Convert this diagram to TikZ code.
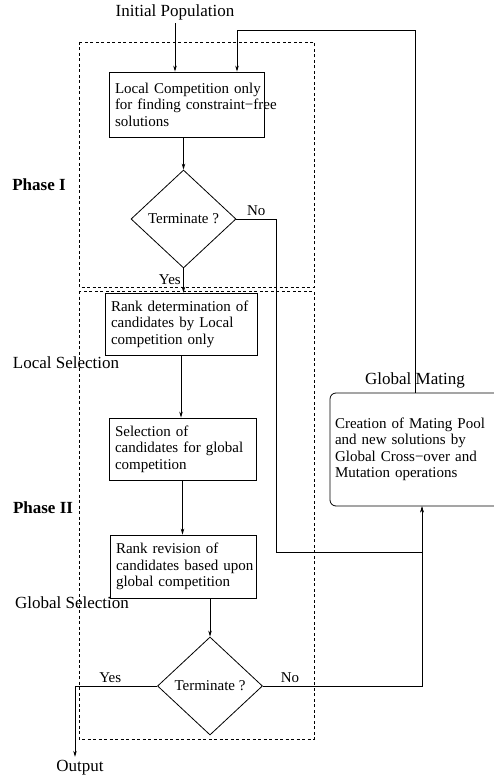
\documentclass[tikz,border=0pt]{standalone}
\usepackage{fontspec}
\setmainfont{Liberation Serif}
\usetikzlibrary{shapes.geometric,arrows.meta}

\begin{document}
\begin{tikzpicture}[x=1pt,y=-1pt,line width=0.8pt,
	>={Stealth[length=6pt,width=3.5pt]},
	procbox/.style={draw,rectangle,align=left,inner xsep=6pt,inner ysep=0pt,
		font=\fontsize{15}{16.5}\selectfont},
	decide/.style={draw,diamond,inner sep=0pt,minimum width=105pt,minimum height=98pt,
		font=\fontsize{15}{17}\selectfont},
	phasebox/.style={draw,dash pattern=on 3pt off 2.5pt,line width=0.7pt},
	biglbl/.style={font=\fontsize{17}{20}\selectfont},
	phaselbl/.style={font=\fontsize{17}{20}\selectfont\bfseries},
	smalllbl/.style={font=\fontsize{15}{17}\selectfont}]

	\useasboundingbox (0,0) rectangle (493,783);

	% phase frames
	\draw[phasebox] (79,42) rectangle (314,287);
	\draw[phasebox] (79,291) rectangle (314,739);

	\node[phaselbl] (ph1) at (39,185) {Phase I};
	\node[phaselbl] (ph2) at (43,508) {Phase II};
	\node[biglbl] (locsel) at (66,363) {Local Selection};
	\node[biglbl] (globsel) at (72,603) {Global Selection};

	% flow
	\node[biglbl] (init) at (175,12) {Initial Population};
	\node[procbox,text width=143pt,minimum height=65pt] (local) at (186.5,104.5)
		{\mbox{Local Competition only}\\\mbox{for finding constraint−free}\\solutions};
	\node[decide] (term1) at (183.5,219) {Terminate ?};
	\node[procbox,text width=140pt,minimum height=62pt] (rankdet) at (181,324)
		{Rank determination of\\candidates by Local\\competition only};
	\node[procbox,text width=135pt,minimum height=62pt] (select) at (182.5,449)
		{Selection of\\candidates for global\\competition};
	\node[procbox,text width=134pt,minimum height=63pt] (rankrev) at (183,566.5)
		{Rank revision of\\\mbox{candidates based upon}\\global competition};
	\node[decide] (term2) at (210,686) {Terminate ?};
	\node[biglbl] (out) at (80,768) {Output};

	\node[biglbl] (matelbl) at (415,380) {Global Mating};
	\node[procbox,rounded corners=6pt,text width=160pt,inner xsep=5pt,minimum height=113pt]
		(mate) at (415,449.5)
		{Creation of Mating Pool\\and new solutions by\\Global Cross−over and\\Mutation operations};

	\coordinate (noturn) at (276,552);
	\coordinate (matein) at ([xshift=7pt]mate.south);
	\coordinate (topturn) at (237,30);

	\draw[->] (init.south) -- (init.south |- local.north);
	\draw[->] (term1.north |- local.south) -- (term1.north);
	\draw[->] (term1.south) -- (term1.south |- rankdet.north)
		node[smalllbl,pos=0.45,left=-1pt] {Yes};
	\draw[->] (term1.east) -- node[smalllbl,above,pos=0.5] {No} (term1.east -| noturn)
		-- (noturn) -| (matein);
	\draw[->] (rankdet.south) -- (rankdet.south |- select.north);
	\draw[->] (select.south) -- (select.south |- rankrev.north);
	\draw[->] (term2.north |- rankrev.south) -- (term2.north);
	\draw[->] (term2.west) -- node[smalllbl,above,pos=0.57] {Yes} (term2.west -| 75,0)
		-- ([xshift=-5pt]out.north);
	\draw[->] (term2.east) -- node[smalllbl,above,pos=0.17] {No} (term2.east -| matein)
		-- (matein);
	\draw[->] (mate.north) |- (topturn) -- (topturn |- local.north);

\end{tikzpicture}
\end{document}
